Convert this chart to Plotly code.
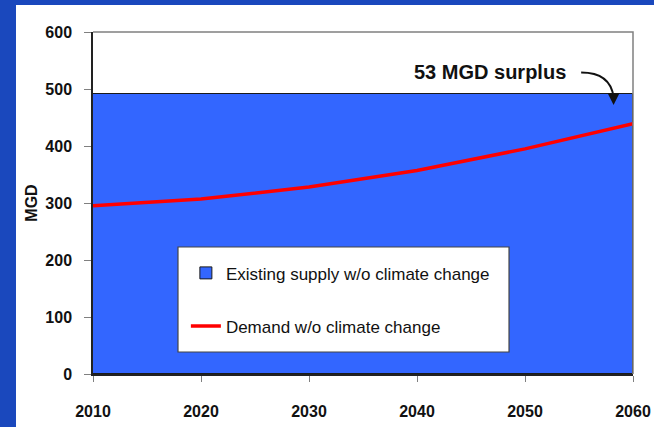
import plotly.graph_objects as go

# Planning horizon (decades) and flows in million gallons per day
years = [2010, 2020, 2030, 2040, 2050, 2060]
demand_mgd = [295, 307, 328, 357, 395, 439]
existing_supply_mgd = 492
surplus_label = "53 MGD surplus"
y_ticks = [0, 100, 200, 300, 400, 500, 600]

SANS = "Liberation Sans Narrow, Liberation Sans, Arial, sans-serif"
SUPPLY_BLUE = "#3366ff"
SLIDE_BLUE = "#1a48bd"

fig = go.Figure()

# Existing supply as a single block spanning the whole horizon
fig.add_trace(go.Bar(
    x=[(years[0] + years[-1]) / 2],
    y=[existing_supply_mgd],
    width=[years[-1] - years[0]],
    marker=dict(color=SUPPLY_BLUE, line=dict(color="#1a1a1a", width=1)),
    name="Existing supply w/o climate change",
    legendgroup="supply",
    hoverinfo="skip",
))

# Projected demand
fig.add_trace(go.Scatter(
    x=years,
    y=demand_mgd,
    mode="lines",
    line=dict(color="#ff0000", width=3.5),
    name="Demand w/o climate change",
    legendgroup="demand",
))

tick_font = dict(family=SANS, size=16, color="#111111", weight="bold")

fig.update_layout(
    width=654,
    height=427,
    margin=dict(l=93, r=21, t=32, b=53, autoexpand=False),
    paper_bgcolor=SLIDE_BLUE,
    plot_bgcolor="white",
    bargap=0,
    showlegend=True,
    legend=dict(
        x=0.172, xanchor="left",
        y=0.347, yanchor="top",
        bgcolor="rgba(0,0,0,0)",
        borderwidth=0,
        tracegroupgap=28,
        font=dict(family=SANS, size=17, color="#111111"),
    ),
    xaxis=dict(
        range=[years[0], years[-1]],
        tickvals=years,
        ticks="outside",
        ticklen=6,
        tickcolor="#808080",
        showgrid=False,
        zeroline=False,
        showline=True,
        linecolor="#222222",
        linewidth=1.5,
        ticklabelstandoff=16,
        automargin=False,
        tickfont=tick_font,
    ),
    yaxis=dict(
        range=[y_ticks[0], y_ticks[-1]],
        tickvals=y_ticks,
        ticks="outside",
        ticklen=7,
        tickcolor="#808080",
        showgrid=False,
        zeroline=False,
        showline=True,
        linecolor="#222222",
        linewidth=1.5,
        ticklabelstandoff=9,
        automargin=False,
        tickfont=tick_font,
        title=dict(text="MGD", standoff=4, font=tick_font),
    ),
)

# White slide panel behind the chart
fig.add_shape(type="rect", xref="paper", yref="paper", layer="below",
              x0=-0.1426, x1=1.05, y0=-0.2, y1=1.079,
              fillcolor="white", line=dict(width=0))

# Light frame on the top and right of the plot area
fig.add_shape(type="path", xref="paper", yref="paper", layer="above",
              path="M 0,1 L 1,1 L 1,0", line=dict(color="#808080", width=1.5))

# Legend box
fig.add_shape(type="rect", xref="paper", yref="paper", layer="above",
              x0=0.1574, x1=0.7704, y0=0.0643, y1=0.3713,
              fillcolor="white", line=dict(color="#444444", width=1.2))

# Surplus callout with curved arrow
fig.add_annotation(x=2046.8, y=529, xref="x", yref="y", text=surplus_label,
                   showarrow=False,
                   font=dict(family="Liberation Sans, Arial, sans-serif", size=20,
                             color="#111111", weight="bold"))
fig.add_shape(type="path", xref="x", yref="y", layer="above",
              path="M 2055.2,529 Q 2057.9,529 2058.2,486",
              line=dict(color="#111111", width=2))
fig.add_annotation(x=2058.2, y=472, xref="x", yref="y", ax=0, ay=-12,
                   text="", showarrow=True, arrowhead=2, arrowsize=1.2,
                   arrowwidth=2, arrowcolor="#111111")

fig.write_html("out.html")
